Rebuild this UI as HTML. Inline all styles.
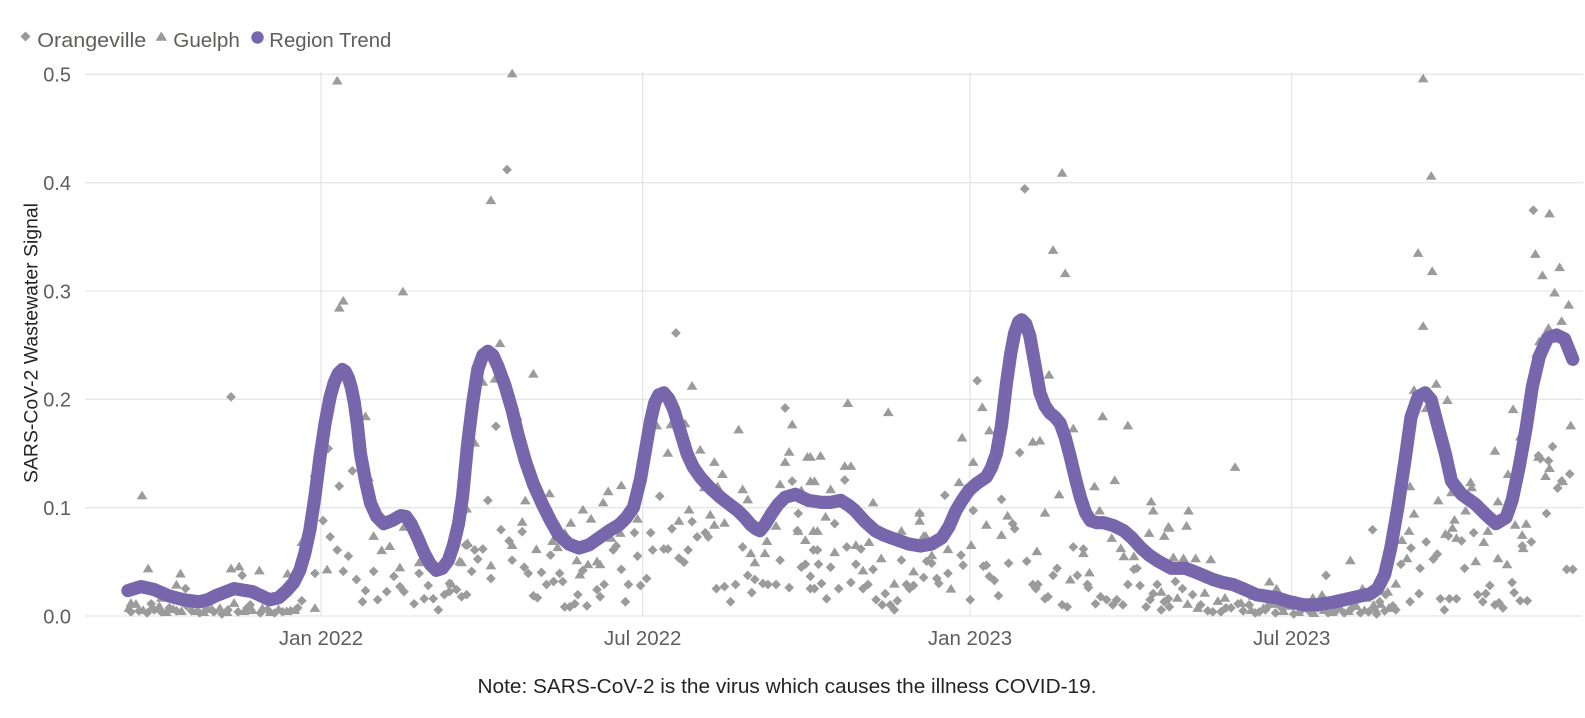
<!DOCTYPE html>
<html><head><meta charset="utf-8"><style>
html,body{margin:0;padding:0;background:#fff;}
svg{display:block;}
text{font-family:"Liberation Sans",Arial,sans-serif;}
</style></head><body>
<svg width="1585" height="718" viewBox="0 0 1585 718" xmlns="http://www.w3.org/2000/svg">
<defs>
<marker id="md" markerUnits="userSpaceOnUse" markerWidth="12" markerHeight="12" refX="6" refY="6" viewBox="0 0 12 12" overflow="visible"><path d="M6 1.2L10.8 6 6 10.8 1.2 6z" fill="#9b9b9b"/></marker>
<marker id="mt" markerUnits="userSpaceOnUse" markerWidth="12" markerHeight="12" refX="6" refY="6" viewBox="0 0 12 12" overflow="visible"><path d="M6 1.4L11.3 10H0.7z" fill="#9b9b9b"/></marker>
</defs>
<rect width="1585" height="718" fill="#fff"/>
<path d="M25.5 31.5l5 5-5 5-5-5z" fill="#999"/>
<text x="37.3" y="46.8" font-size="20" fill="#605e5c" textLength="109" lengthAdjust="spacingAndGlyphs">Orangeville</text>
<path d="M161.3 31.5l5.8 9.3h-11.6z" fill="#999"/>
<text x="173.3" y="46.8" font-size="20" fill="#605e5c" textLength="66.5" lengthAdjust="spacingAndGlyphs">Guelph</text>
<circle cx="257.5" cy="37.5" r="6.2" fill="#7866ac"/>
<text x="269.3" y="46.8" font-size="20" fill="#605e5c" textLength="122" lengthAdjust="spacingAndGlyphs">Region Trend</text>
<g stroke="#e6e6e6" stroke-width="1.3" fill="none">
<path d="M85 74.3H1583M85 182.7H1583M85 291H1583M85 399.3H1583M85 507.7H1583M85 616H1583"/>
<path d="M321 72V616M642.7 72V616M970 72V616M1291.7 72V616"/>
</g>
<g font-size="20" fill="#605e5c" text-anchor="end">
<text x="71" y="81.5">0.5</text>
<text x="71" y="190">0.4</text>
<text x="71" y="298.3">0.3</text>
<text x="71" y="406.6">0.2</text>
<text x="71" y="515">0.1</text>
<text x="71" y="623.3">0.0</text>
</g>
<text transform="translate(37.5 343) rotate(-90)" font-size="19" fill="#252423" text-anchor="middle" textLength="280" lengthAdjust="spacingAndGlyphs">SARS-CoV-2 Wastewater Signal</text>
<g font-size="20.5" fill="#605e5c" text-anchor="middle">
<text x="321" y="645">Jan 2022</text>
<text x="642.7" y="645">Jul 2022</text>
<text x="970" y="645">Jan 2023</text>
<text x="1291.7" y="645">Jul 2023</text>
</g>
<text x="787" y="693" font-size="20.5" fill="#252423" text-anchor="middle" textLength="619" lengthAdjust="spacingAndGlyphs">Note: SARS-CoV-2 is the virus which causes the illness COVID-19.</text>
<g transform="matrix(1.0111 0 0 1.0144 -0.5 -0.77)">
<polyline fill="none" stroke="none" marker-start="url(#md)" marker-mid="url(#md)" marker-end="url(#md)" points="229,392 184,581 240,568 254,583 299,593 312,566 325,443 320,514 336,480 349,465 327,530 334,543 345,549 340,564 353,572 362,583 359,594 370,564 374,592 383,584 390,569 396,579 400,584 410,596 420,591 424,578 429,591 434,602 440,587 445,584 452,582 462,587 463,538 415,566 445,576 130,604 138,603 146,605 153,602 160,604 168,600 175,603 190,603 198,605 205,601 212,604 220,606 226,602 236,604 245,600 258,605 265,602 272,605 280,604 288,603 295,600 150,596 185,598 248,597 502,168 669,329 491,421 483,494 496,523 504,534 517,525 507,553 461,538 470,543 478,542 473,552 467,564 486,571 457,589 519,560 523,566 536,565 541,577 545,548 548,574 554,566 557,574 528,588 532,590 559,599 564,599 569,596 572,587 577,563 581,598 591,582 594,589 598,577 607,543 610,539 615,562 619,594 622,577 628,526 631,549 634,578 640,571 644,526 646,543 653,490 657,542 661,542 665,522 672,551 677,555 681,543 685,515 690,530 698,526 701,530 709,581 717,579 723,594 728,577 735,540 740,568 744,585 747,572 755,576 760,577 768,577 772,553 777,403 781,580 784,475 790,507 789,524 793,560 797,557 802,569 806,581 809,543 967,376 1014,187 1009,447 935,489 963,504 991,493 1002,517 1004,522 836,474 826,517 805,543 810,557 822,560 802,581 813,576 818,591 830,581 838,540 842,575 852,542 847,557 854,581 859,577 864,562 867,592 873,597 876,586 881,597 885,602 888,593 892,553 897,577 900,581 904,578 910,507 914,570 917,554 922,556 927,571 929,576 938,566 951,548 953,558 960,592 973,559 976,558 979,569 984,573 988,588 998,556 1016,554 1022,577 1027,577 1025,581 1034,591 1037,589 1042,568 1046,561 1051,597 1056,599 1062,540 1066,568 1072,542 1076,577 1077,580 1084,596 1089,589 1095,592 1101,597 1105,592 1111,597 1116,577 1122,562 1125,561 1128,578 1134,599 1138,592 1145,577 1141,586 1149,602 1152,594 1157,599 1517,208 1536,441 1530,507 1532,455 1541,482 1545,475 1553,468 1550,562 1556,562 1358,523 1312,568 1411,535 1396,541 1418,552 1422,547 1405,561 1404,586 1425,591 1429,602 1434,591 1441,591 1449,561 1458,526 1446,534 1433,529 1462,587 1470,586 1474,578 1467,594 1479,597 1483,595 1487,600 1496,575 1498,585 1504,593 1511,593 1515,535 1506,539 1522,450 1524,453 1386,557 1395,594 1381,602 1371,587 1365,594 1188,597 1200,604 1213,600 1218,600 1225,596 1236,597 1246,604 1256,597 1163,574 1170,581 1180,587 1156,591 1195,603 1208,604 1230,603 1242,605 1252,602 1262,605 1268,600 1280,606 1288,602 1296,604 1304,600 1314,605 1322,603 1330,605 1338,600 1346,605 1354,604 1362,606 1370,603 1378,598 1276,592 1300,594 1340,590"/>
<polyline fill="none" stroke="none" marker-start="url(#mt)" marker-mid="url(#mt)" marker-end="url(#mt)" points="141,489 147,561 179,566 175,577 229,561 237,559 257,563 285,566 299,535 312,467 312,600 324,562 336,304 340,297 399,288 362,411 365,471 370,529 386,539 378,543 396,560 400,520 415,555 447,576 457,555 462,502 463,536 128,600 135,596 142,602 150,600 158,598 165,604 172,601 180,603 188,596 195,603 202,604 210,601 218,600 225,604 232,595 242,603 250,602 260,600 268,604 276,601 284,603 292,602 172,588 196,596 130,595 160,590 262,590 334,80 507,73 486,198 495,339 478,377 490,374 528,369 470,437 460,455 458,503 512,411 520,494 517,515 507,538 534,491 544,487 531,542 547,534 552,540 559,526 565,516 577,503 585,512 597,496 602,485 615,479 631,512 605,531 614,526 591,554 594,557 582,557 574,567 571,553 486,558 455,554 650,420 664,419 661,447 678,418 685,381 693,444 707,456 715,468 710,480 697,481 682,503 672,514 703,508 707,518 717,516 731,424 735,483 740,493 743,546 747,555 757,546 759,534 768,519 772,478 777,456 781,446 784,419 790,524 797,533 802,451 806,475 809,524 793,484 839,398 879,407 812,450 836,460 842,460 802,475 822,483 799,451 817,510 805,524 864,496 860,535 826,545 892,524 910,506 910,514 914,529 916,529 922,548 938,542 941,581 904,564 885,576 872,551 854,563 847,538 949,476 952,432 961,538 963,456 972,402 979,425 976,518 991,528 997,509 1001,332 1022,436 1029,435 1038,370 1048,488 1034,506 1026,544 1062,423 1059,572 1072,546 1078,565 1083,480 1088,504 1091,411 1100,531 1103,474 1109,541 1112,549 1116,420 1122,549 1137,526 1139,495 1141,504 1152,529 1157,521 1149,584 1051,171 1042,247 1054,270 1408,322 1421,379 1432,395 1411,403 1399,385 1497,404 1504,431 1479,445 1492,468 1520,349 1523,337 1532,324 1545,317 1554,420 1522,451 1533,462 1529,470 1546,475 1395,480 1399,507 1394,524 1387,533 1392,551 1423,494 1436,486 1455,476 1456,481 1450,504 1439,513 1437,521 1430,527 1441,531 1468,535 1472,524 1482,495 1482,551 1460,554 1499,518 1510,517 1506,528 1507,541 1491,557 1336,553 1198,552 1176,504 1174,519 1156,520 1161,550 1171,551 1183,551 1222,461 1308,587 1299,590 1256,574 1263,581 1348,581 1381,576 1373,584 1359,597 1408,78 1416,174 1533,211 1403,250 1417,268 1519,251 1543,264 1526,272 1538,289 1552,301 1165,590 1175,596 1185,600 1192,585 1205,593 1212,590 1228,595 1238,602 1250,600 1262,596 1270,603 1276,598 1285,604 1292,600 1300,605 1310,602 1318,604 1326,600 1334,603 1342,598 1350,602 1360,600 1366,596 1374,600 1240,588 1282,592 1320,592 1352,590"/>
<polyline fill="none" stroke="#7866ac" stroke-width="13" stroke-linecap="round" stroke-linejoin="round" points="127,583 140,579 153,582 167,588 182,592 197,594 206,592 214,588 232,581 250,584 267,592 276,590 284,583 291,575 297,563 302,546 307,523 312,490 317,451 322,418 327,392 331,378 335,369 339,365 342,367 345,373 348,383 351,398 354,420 357,448 362,475 367,497 373,510 380,517 388,514 397,509 402,510 407,517 414,532 420,546 426,557 432,563 438,561 444,553 449,538 454,517 458,490 463,438 468,398 473,365 478,351 483,347 488,351 493,362 500,381 507,405 513,430 520,455 528,478 537,498 545,514 553,528 563,537 573,541 583,538 593,531 603,524 613,518 620,511 627,501 634,473 640,438 644,415 648,398 652,390 657,388 662,394 667,405 673,425 680,448 686,461 693,471 703,482 713,491 722,498 730,504 737,511 743,518 748,522 752,524 757,518 763,508 770,498 777,491 787,488 800,494 813,496 822,496 832,494 840,499 846,504 856,515 866,524 874,528 882,531 899,537 911,539 922,537 932,531 939,520 946,504 952,494 959,484 967,477 976,471 981,462 986,448 991,420 996,378 1000,350 1004,329 1008,318 1011,316 1015,320 1019,332 1024,360 1029,388 1034,401 1039,408 1044,412 1049,418 1054,432 1059,451 1064,472 1069,491 1074,506 1079,514 1085,516 1092,516 1102,519 1112,524 1120,531 1129,541 1137,548 1146,554 1159,561 1173,561 1186,566 1200,572 1210,575 1220,577 1232,582 1243,587 1263,590 1276,594 1290,597 1303,597 1316,595 1330,592 1343,589 1356,586 1363,581 1370,567 1376,541 1383,501 1390,455 1396,412 1403,392 1410,388 1416,395 1423,422 1430,448 1436,475 1446,488 1460,498 1470,508 1480,517 1490,511 1496,494 1503,461 1510,422 1516,382 1523,352 1531,334 1540,331 1548,335 1556,355"/>
</g>
</svg>
</body></html>
